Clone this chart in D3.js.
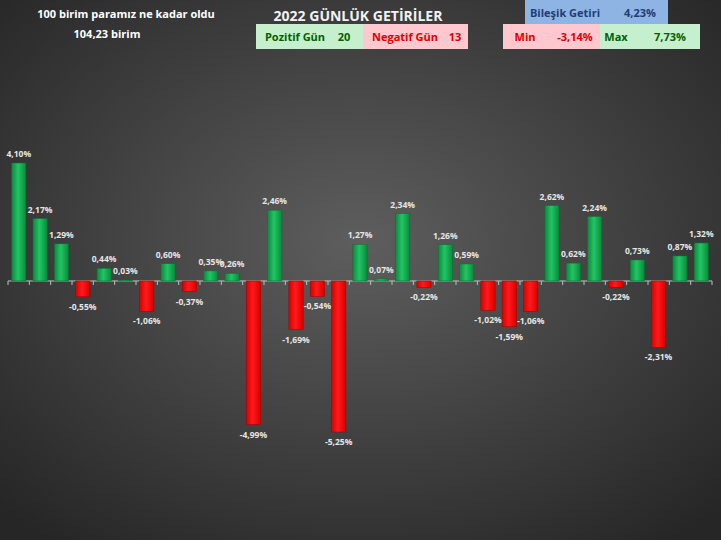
<!DOCTYPE html>
<html><head><meta charset="utf-8">
<script src="https://cdn.jsdelivr.net/npm/d3@7"></script>
<style>
body{margin:0;background:#333;}
svg{display:block;font-family:"Liberation Sans Narrow","Open Sans",sans-serif;}
</style></head><body>
<svg id="c" width="721" height="540"></svg>
<script>
const values = [4.10, 2.17, 1.29, -0.55, 0.44, 0.03, -1.06, 0.60, -0.37, 0.35, 0.26, -4.99, 2.46, -1.69, -0.54, -5.25, 1.27, 0.07, 2.34, -0.22, 1.26, 0.59, -1.02, -1.59, -1.06, 2.62, 0.62, 2.24, -0.22, 0.73, -2.31, 0.87, 1.32];
const days = values.map((d, i) => i + 1);
const fmt = v => v.toFixed(2).replace(".", ",") + "%";

const svg = d3.select("#c");
const defs = svg.append("defs");
const bg = defs.append("radialGradient").attr("id", "bg").attr("cx", "50%").attr("cy", "45%").attr("r", "70%");
bg.append("stop").attr("offset", "0%").attr("stop-color", "#5e5e5e");
bg.append("stop").attr("offset", "100%").attr("stop-color", "#262626");
const gg = defs.append("linearGradient").attr("id", "gpos");
gg.append("stop").attr("offset", "0%").attr("stop-color", "#0a8a3a");
gg.append("stop").attr("offset", "45%").attr("stop-color", "#22c466");
gg.append("stop").attr("offset", "100%").attr("stop-color", "#0a8a3a");
const rg = defs.append("linearGradient").attr("id", "gneg");
rg.append("stop").attr("offset", "0%").attr("stop-color", "#d80000");
rg.append("stop").attr("offset", "45%").attr("stop-color", "#ff1a1a");
rg.append("stop").attr("offset", "100%").attr("stop-color", "#d80000");

svg.append("rect").attr("width", 721).attr("height", 540).attr("fill", "url(#bg)");

const x = d3.scaleBand().domain(days).range([8, 712]).paddingInner(0.33).paddingOuter(0.17);
const y = d3.scaleLinear().domain([-5.25, 4.10]).range([432, 163]);

// axis
const y0 = y(0);
svg.append("line").attr("x1", 8).attr("x2", 712).attr("y1", y0).attr("y2", y0).attr("stroke", "#bfbfbf");
svg.selectAll(".tk").data(d3.range(days.length + 1)).join("line")
  .attr("x1", i => 8 + i * (704 / days.length)).attr("x2", i => 8 + i * (704 / days.length))
  .attr("y1", y0).attr("y2", y0 + 4).attr("stroke", "#bfbfbf");

svg.selectAll(".bar").data(values).join("rect")
  .attr("x", (d, i) => x(days[i])).attr("width", x.bandwidth())
  .attr("y", d => y(Math.max(0, d))).attr("height", d => Math.abs(y(d) - y0))
  .attr("fill", d => d >= 0 ? "url(#gpos)" : "url(#gneg)")
  .attr("stroke", d => d >= 0 ? "#0b6e2e" : "#a00000").attr("stroke-width", 0.5);

svg.selectAll(".lbl").data(values).join("text")
  .attr("x", (d, i) => x(days[i]) + x.bandwidth() / 2)
  .attr("y", d => d >= 0 ? y(d) - 6 : y(d) + 13)
  .attr("text-anchor", "middle").attr("fill", "#e6e6e6")
  .attr("font-size", 8.5).attr("font-weight", "bold").text(fmt);

// header
const T = (t, xx, yy, o = {}) => svg.append("text").attr("x", xx).attr("y", yy)
  .attr("text-anchor", o.a || "middle").attr("fill", o.c || "#fff")
  .attr("font-size", o.s || 11).attr("font-weight", "bold").text(t);
T("100 birim paramız ne kadar oldu", 126, 18);
T("104,23  birim", 107, 38);
T("2022 GÜNLÜK GETİRİLER", 358, 21, { s: 14, c: "#f2f2f2" });

const box = (xx, yy, w, h, f) => svg.append("rect").attr("x", xx).attr("y", yy).attr("width", w).attr("height", h).attr("fill", f);
box(525, 0, 143, 26, "#8db4e2");
T("Bileşik Getiri", 565, 17, { c: "#1f3c78" });
T("4,23%", 640, 17, { c: "#1f3c78" });
box(256, 24, 107, 25, "#c6efce");
T("Pozitif Gün", 295, 41, { c: "#006100" });
T("20", 344, 41, { c: "#006100" });
box(363, 24, 105, 25, "#ffc7ce");
T("Negatif Gün", 405, 41, { c: "#e00000" });
T("13", 455, 41, { c: "#e00000" });
box(503, 24, 97, 25, "#ffc7ce");
T("Min", 525, 41, { c: "#e00000" });
T("-3,14%", 575, 41, { c: "#e00000" });
box(600, 24, 100, 25, "#c6efce");
T("Max", 616, 41, { c: "#006100" });
T("7,73%", 670, 41, { c: "#006100" });
</script>
</body></html>
